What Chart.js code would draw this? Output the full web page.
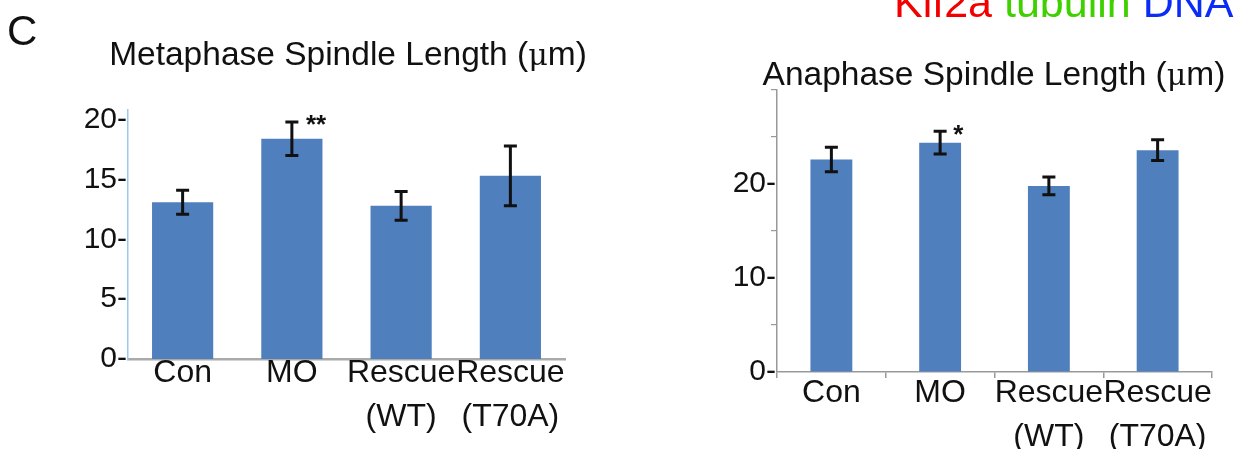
<!DOCTYPE html>
<html>
<head>
<meta charset="utf-8">
<script src="https://cdn.jsdelivr.net/npm/chart.js@4/dist/chart.umd.min.js"></script>
<style>
  html, body { margin: 0; padding: 0; background: #fff; overflow: hidden; }
  #wrap { position: relative; width: 1237px; height: 449px;
          font-family: "Liberation Sans", Arial, sans-serif; color: #111; }
  #wrap canvas { position: absolute; top: 0; }
  .txt { position: absolute; white-space: nowrap; }
  .mu { font-family: "DejaVu Serif", serif; font-size: 0.9em; }
</style>
</head>
<body>
<div id="wrap">
  <canvas id="chartMeta" width="620" height="449" style="left:0"></canvas>
  <canvas id="chartAna" width="617" height="449" style="left:620px"></canvas>
  <div class="txt" style="left:7px;top:10px;font-size:42px;line-height:42px">C</div>
  <div class="txt" style="left:98px;top:37px;width:500px;text-align:center;font-size:33.5px;line-height:33.5px">Metaphase Spindle Length (<span class="mu">μ</span>m)</div>
  <div class="txt" style="left:744px;top:57px;width:500px;text-align:center;font-size:33.5px;line-height:33.5px">Anaphase Spindle Length (<span class="mu">μ</span>m)</div>
  <div class="txt" style="left:894px;top:-19px;font-size:43px;line-height:43px"><span style="color:#f20000">Kif2a</span> <span style="color:#3fd000">tubulin</span> <span style="color:#0a2cf5">DNA</span></div>
</div>
<script>
(function () {
  "use strict";

  const categories = ["Con", "MO", ["Rescue", "(WT)"], ["Rescue", "(T70A)"]];

  const metaMean = [13.1, 18.4, 12.8, 15.3];
  const metaErr = [1.0, 1.4, 1.2, 2.5];
  const metaMarks = ["", "**", "", ""];
  const metaTicks = [0, 5, 10, 15, 20];

  const anaMean = [22.6, 24.4, 19.8, 23.6];
  const anaErr = [1.3, 1.2, 0.95, 1.1];
  const anaMarks = ["", "*", "", ""];
  const anaLabeled = [0, 10, 20];

  const FONT = "'Liberation Sans', Arial, sans-serif";
  const BAR = "#4f7fbc";

  // error bars + significance stars, placed from the y scale
  const errorBars = {
    id: "errorBars",
    afterDatasetsDraw(chart, args, opts) {
      const ctx = chart.ctx;
      const y = chart.scales.y;
      const ds = chart.data.datasets[0];
      const meta = chart.getDatasetMeta(0);
      ctx.save();
      ctx.strokeStyle = "#111";
      ctx.lineWidth = 3;
      meta.data.forEach((bar, i) => {
        const top = y.getPixelForValue(ds.data[i] + ds.errors[i]);
        const bot = y.getPixelForValue(ds.data[i] - ds.errors[i]);
        ctx.beginPath();
        ctx.moveTo(bar.x, top); ctx.lineTo(bar.x, bot);
        ctx.moveTo(bar.x - 6.5, top); ctx.lineTo(bar.x + 6.5, top);
        ctx.moveTo(bar.x - 6.5, bot); ctx.lineTo(bar.x + 6.5, bot);
        ctx.stroke();
        if (ds.marks[i]) {
          ctx.fillStyle = "#111";
          ctx.font = "bold 26px " + FONT;
          ctx.textBaseline = "alphabetic";
          ctx.fillText(ds.marks[i], bar.x + opts.dx, top + opts.dy);
        }
      });
      ctx.restore();
    }
  };

  // Chart: Metaphase
  new Chart(document.getElementById("chartMeta"), {
    type: "bar",
    data: {
      labels: categories,
      datasets: [{
        data: metaMean,
        errors: metaErr,
        marks: metaMarks,
        backgroundColor: BAR,
        categoryPercentage: 1,
        barPercentage: 0.56,
      }],
    },
    options: {
      responsive: false,
      animation: false,
      layout: { padding: { top: 110, right: 55, left: 0, bottom: 0 } },
      plugins: {
        legend: { display: false },
        tooltip: { enabled: false },
        errorBars: { dx: 14, dy: 11 },
      },
      scales: {
        x: {
          grid: { display: false, drawTicks: false },
          border: { display: true, color: "#aaa", width: 2.5 },
          ticks: { color: "#111", font: { family: FONT, size: 32, lineHeight: 1.37 }, padding: -8, maxRotation: 0, autoSkip: false },
          afterFit(s) { s.height = 90; },
        },
        y: {
          min: 0,
          max: 20.8,
          grid: { display: false, drawTicks: false },
          border: { display: true, color: "#9cc9ee", width: 1.5 },
          afterBuildTicks(s) { s.ticks = metaTicks.map(v => ({ value: v })); },
          ticks: { color: "#111", font: { family: FONT, size: 30 }, padding: 1, callback: v => v + "-" },
          afterFit(s) { s.width = 128; },
        },
      },
    },
    plugins: [errorBars],
  });

  // Chart: Anaphase
  new Chart(document.getElementById("chartAna"), {
    type: "bar",
    data: {
      labels: categories,
      datasets: [{
        data: anaMean,
        errors: anaErr,
        marks: anaMarks,
        backgroundColor: BAR,
        categoryPercentage: 1,
        barPercentage: 0.385,
      }],
    },
    options: {
      responsive: false,
      animation: false,
      layout: { padding: { top: 90, right: 25, left: 0, bottom: 0 } },
      plugins: {
        legend: { display: false },
        tooltip: { enabled: false },
        errorBars: { dx: 13, dy: 12 },
      },
      scales: {
        x: {
          grid: { display: true, drawOnChartArea: false, offset: true, tickLength: 6, color: "#999", lineWidth: 1.5 },
          border: { display: true, color: "#999", width: 1.5 },
          ticks: { color: "#111", font: { family: FONT, size: 32, lineHeight: 1.37 }, padding: -7, maxRotation: 0, autoSkip: false },
          afterFit(s) { s.height = 77; },
        },
        y: {
          min: 0,
          max: 30,
          grid: {
            display: true, drawOnChartArea: false, tickLength: 6, lineWidth: 1.2,
            color: c => (c.tick && anaLabeled.includes(c.tick.value)) ? "rgba(0,0,0,0)" : "#999",
          },
          border: { display: true, color: "#999", width: 1.5 },
          ticks: {
            stepSize: 5, color: "#111", font: { family: FONT, size: 30 }, padding: -5,
            callback: v => anaLabeled.includes(v) ? v + "-" : "",
          },
          afterFit(s) { s.width = 157; },
        },
      },
    },
    plugins: [errorBars],
  });
})();
</script>
</body>
</html>
